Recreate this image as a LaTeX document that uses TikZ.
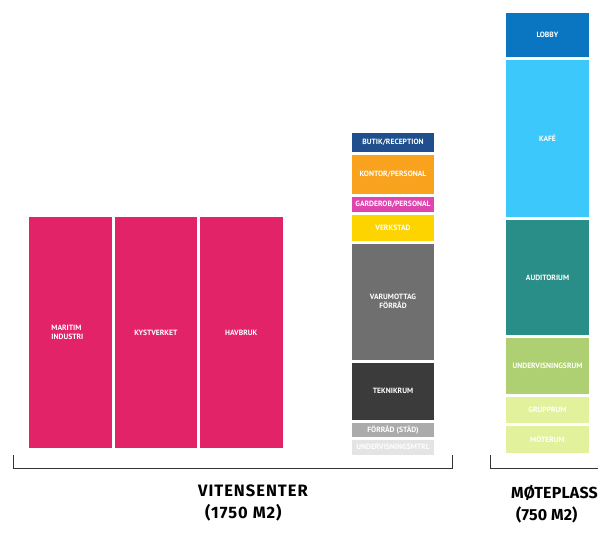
\documentclass[tikz,border=0pt]{standalone}
\usepackage{fontspec}
\setmainfont{PT Sans}
\newfontfamily\titlefont[LetterSpace=6]{Fira Sans}
\newfontfamily\titletight[LetterSpace=1]{Fira Sans}
\usetikzlibrary{positioning}

\definecolor{pinkroom}{HTML}{E32368}
\definecolor{butikc}{HTML}{1F4F8C}
\definecolor{kontorc}{HTML}{F8A21E}
\definecolor{garderobc}{HTML}{DE45AE}
\definecolor{verkstadc}{HTML}{FDD400}
\definecolor{varuc}{HTML}{6F6F6F}
\definecolor{teknc}{HTML}{3B3B3B}
\definecolor{forradc}{HTML}{ABABAB}
\definecolor{undermc}{HTML}{E4E4E4}
\definecolor{lobbyc}{HTML}{0A76C2}
\definecolor{kafec}{HTML}{3CC8FB}
\definecolor{audic}{HTML}{2A8E88}
\definecolor{underrc}{HTML}{AED072}
\definecolor{gruppc}{HTML}{E2F19C}
\definecolor{bracketc}{HTML}{333333}

\begin{document}
\begin{tikzpicture}[
  x=1pt, y=-1pt,
  node distance=2.5pt,
  room/.style={draw=none, anchor=north west, inner sep=0pt, align=center, text=white,
    font=\bfseries\fontsize{7.6}{9}\selectfont},
  wide/.style={room, minimum width=82.5pt},
  col/.style={room, minimum width=82pt, anchor=north},
  rcol/.style={room, minimum width=83pt, anchor=north},
  ttl/.style={anchor=north west, inner sep=0pt, align=left,
    font=\titlefont\bfseries\fontsize{16.5}{22}\selectfont},
  brk/.style={draw=bracketc, line width=1pt}]

\useasboundingbox (0,0) rectangle (598,536);

% Vitensenter: utställningsrum
\node[wide, fill=pinkroom, minimum height=231pt] (mar) at (29,217) {};
\node[wide, fill=pinkroom, minimum height=231pt, right=2.5pt of mar] (kyst) {KYSTVERKET};
\node[wide, fill=pinkroom, minimum height=231pt, right=2.5pt of kyst] (hav) {HAVBRUK};
\node[room, align=left, anchor=center] at ([xshift=-3pt]mar.center) {MARITIM\\INDUSTRI};

% Vitensenter: stödfunktioner
\node[col, fill=butikc, minimum height=19pt] (butik) at (393,133) {BUTIK/RECEPTION};
\node[col, fill=kontorc, minimum height=39pt, below=of butik] (kontor) {KONTOR/PERSONAL};
\node[col, fill=garderobc, minimum height=15pt, below=of kontor] (garderob) {GARDEROB/PERSONAL};
\node[col, fill=verkstadc, minimum height=26pt, below=of garderob] (verkstad) {VERKSTAD};
\node[col, fill=varuc, minimum height=116pt, below=of verkstad] (varu) {VARUMOTTAG\\FÖRRÅD};
\node[col, fill=teknc, minimum height=57pt, below=of varu] (tekn) {TEKNIKRUM};
\node[col, fill=forradc, minimum height=14pt, below=of tekn] (forrad) {FÖRRÅD (STÄD)};
\node[col, fill=undermc, minimum height=15pt, below=of forrad] (underm) {UNDERVISNINGSMTRL};

% Møteplass
\node[rcol, fill=lobbyc, minimum height=44pt] (lobby) at (547.5,13) {LOBBY};
\node[rcol, fill=kafec, minimum height=157pt, below=of lobby] (kafe) {KAFÉ};
\node[rcol, fill=audic, minimum height=115pt, below=of kafe] (audi) {AUDITORIUM};
\node[rcol, fill=underrc, minimum height=56pt, below=of audi] (underr) {UNDERVISNINGSRUM};
\node[rcol, fill=gruppc, minimum height=26pt, below=of underr] (grupp) {GRUPPRUM};
\node[rcol, fill=gruppc, minimum height=27pt, below=of grupp] (mote) {MÖTERUM};

% klamrar
\coordinate (vitL) at (13,455);
\coordinate (vitR) at (452,455);
\coordinate (motL) at (490,455);
\coordinate (motR) at (600,468);
\draw[brk] (vitL) -- ++(0,13) -| (vitR);
\draw[brk] (motL) |- (motR);

\node[ttl] (tVit) at (198,485) {VITENSENTER\\\hspace*{7pt}(1750 M2)};
\node[ttl, font=\titletight\bfseries\fontsize{16}{22}\selectfont] (tMot) at (511,485) {MØTEPLASS\\\hspace*{5pt}(750 M2)};

\end{tikzpicture}
\end{document}
